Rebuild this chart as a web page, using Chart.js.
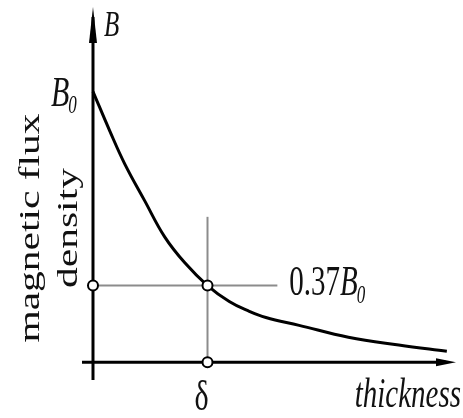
<!DOCTYPE html>
<html>
<head>
<meta charset="utf-8">
<script src="https://cdn.jsdelivr.net/npm/chart.js@4/dist/chart.umd.min.js"></script>
<style>
  html, body { margin: 0; padding: 0; background: #fff; }
  canvas { display: block; }
</style>
</head>
<body>
<canvas id="skin" width="463" height="418"></canvas>
<script>
// curve: thickness in units of delta, B in units of B0
const thicknessX = [0, 0.148, 0.278, 0.452, 0.626, 0.8, 1.0, 1.19, 1.348, 1.51, 1.8, 2.23, 2.67, 3.09];
const fluxB      = [1.0, 0.853, 0.732, 0.596, 0.463, 0.368, 0.283, 0.224, 0.191, 0.165, 0.136, 0.092, 0.063, 0.040];

// the marked point (delta, 0.37B0) as drawn
const deltaX = 1.0;
const levelB = 0.283;
const guideHEnd = 1.61;   // horizontal guide runs to the label
const guideVTop = 0.537;  // vertical guide starts a bit above the point

const yLabel = ['magnetic flux', 'density'];
const xLabel = 'thickness';

const SERIF = '"Liberation Serif", "Times New Roman", serif';
const SY = 1.43; // the figure is stretched vertically

function tallText(ctx, txt, x, y, size, italic, align) {
  ctx.save();
  ctx.translate(x, y);
  ctx.scale(1, SY);
  ctx.font = (italic ? 'italic ' : '') + size + 'px ' + SERIF;
  ctx.textAlign = align || 'left';
  ctx.textBaseline = 'alphabetic';
  ctx.fillText(txt, 0, 0);
  const w = ctx.measureText(txt).width;
  ctx.restore();
  return w;
}

const sketch = {
  id: 'sketch',
  beforeDatasetsDraw(chart) {
    const { ctx, scales: { x, y } } = chart;
    const x0 = x.getPixelForValue(0), y0 = y.getPixelForValue(0);
    ctx.save();
    ctx.strokeStyle = '#000';
    ctx.fillStyle = '#000';
    ctx.lineWidth = 3;
    // y axis
    ctx.beginPath();
    ctx.moveTo(x0, chart.chartArea.bottom);
    ctx.lineTo(x0, chart.chartArea.top + 10);
    ctx.stroke();
    ctx.beginPath();
    ctx.moveTo(x0, chart.chartArea.top);
    ctx.lineTo(x0 - 4, chart.chartArea.top + 36);
    ctx.lineTo(x0 + 4, chart.chartArea.top + 36);
    ctx.closePath();
    ctx.fill();
    // x axis
    ctx.beginPath();
    ctx.moveTo(chart.chartArea.left, y0);
    ctx.lineTo(chart.chartArea.right - 10, y0);
    ctx.stroke();
    ctx.beginPath();
    ctx.moveTo(chart.chartArea.right, y0);
    ctx.lineTo(chart.chartArea.right - 20, y0 - 4);
    ctx.lineTo(chart.chartArea.right - 20, y0 + 4);
    ctx.closePath();
    ctx.fill();
    ctx.restore();
  },
  afterDraw(chart) {
    const { ctx, scales: { x, y } } = chart;
    const x0 = x.getPixelForValue(0);
    const yB0 = y.getPixelForValue(1);
    const yLvl = y.getPixelForValue(levelB);
    const xD = x.getPixelForValue(deltaX);
    const y0 = y.getPixelForValue(0);
    ctx.save();
    ctx.fillStyle = '#111';

    // B at the top of the axis
    tallText(ctx, 'B', x0 + 11, 36, 25, true);
    // B0 at the start of the curve
    let w = tallText(ctx, 'B', x0 - 42, yB0 + 14, 30, true);
    tallText(ctx, '0', x0 - 42 + w - 1, yB0 + 21, 17, true);
    // 0.37B0 at the end of the guide
    const lx = x.getPixelForValue(guideHEnd) + 12;
    w = tallText(ctx, '0.37', lx, yLvl + 9, 29, false);
    const wb = tallText(ctx, 'B', lx + w, yLvl + 9, 29, true);
    tallText(ctx, '0', lx + w + wb - 1, yLvl + 17, 17, true);
    // delta under the x axis
    tallText(ctx, '\u03b4', xD - 6, y0 + 48, 30, false, 'center');
    // thickness at the right end
    tallText(ctx, xLabel, chart.width - 2, y0 + 45, 29, true, 'right');

    // rotated y title
    const cy = 228;
    [[39, yLabel[0]], [77, yLabel[1]]].forEach(([bx, t]) => {
      ctx.save();
      ctx.translate(bx, cy);
      ctx.rotate(-Math.PI / 2);
      ctx.scale(SY, 1);
      ctx.font = '29px ' + SERIF;
      ctx.textAlign = 'center';
      ctx.fillText(t, 0, 0);
      ctx.restore();
    });
    ctx.restore();
  }
};

const curve = thicknessX.map((v, i) => ({ x: v, y: fluxB[i] }));

new Chart(document.getElementById('skin'), {
  type: 'scatter',
  data: {
    datasets: [
      {
        data: [{ x: 0, y: levelB }, { x: deltaX, y: levelB }, { x: deltaX, y: 0 }],
        order: 0,
        pointRadius: 5, pointBorderWidth: 2,
        pointBackgroundColor: '#fff', pointBorderColor: '#000'
      },
      {
        data: curve,
        order: 1,
        showLine: true, borderColor: '#000', borderWidth: 3, pointRadius: 0,
        tension: 0.4
      },
      {
        data: [{ x: 0, y: levelB }, { x: guideHEnd, y: levelB }],
        order: 2,
        showLine: true, borderColor: '#8c8c8c', borderWidth: 2, pointRadius: 0
      },
      {
        data: [{ x: deltaX, y: 0 }, { x: deltaX, y: guideVTop }],
        order: 3,
        showLine: true, borderColor: '#8c8c8c', borderWidth: 2, pointRadius: 0
      }
    ]
  },
  options: {
    responsive: false,
    animation: false,
    layout: { padding: { left: 82, right: 5, top: 5, bottom: 38 } },
    scales: {
      x: { type: 'linear', min: -0.096, max: 3.17, display: false },
      y: { min: -0.066, max: 1.3125, display: false }
    },
    plugins: { legend: { display: false }, tooltip: { enabled: false } }
  },
  plugins: [sketch]
});
</script>
</body>
</html>
